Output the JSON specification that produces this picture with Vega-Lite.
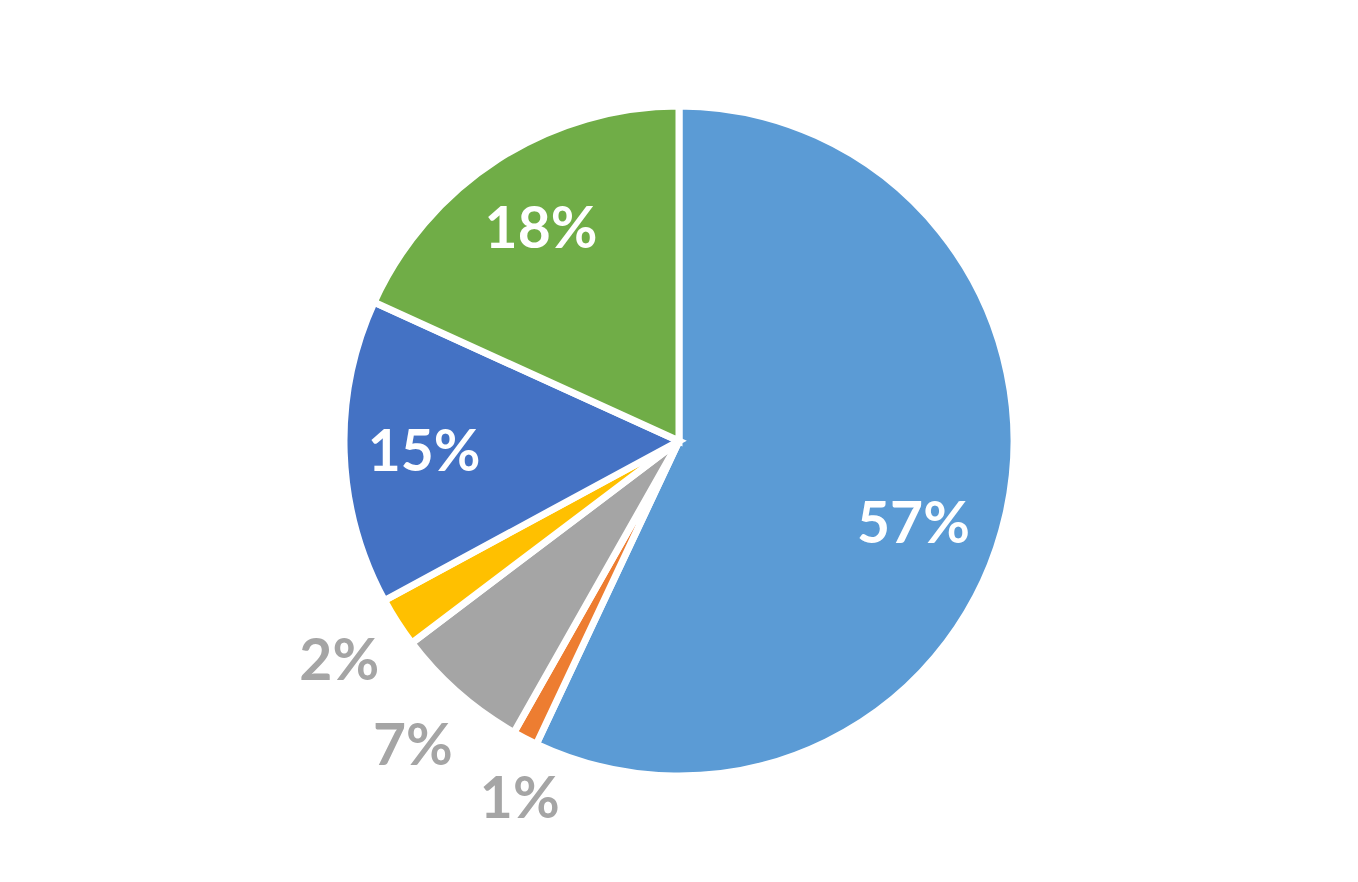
{
  "$schema": "https://vega.github.io/schema/vega-lite/v6.json",
  "autosize": {"type": "fit", "contains": "padding"},
  "width": 1358,
  "height": 882,
  "padding": 0,
  "background": "white",
  "view": {"stroke": null},
  "data": {
    "values": [
      {"order": 1, "category": "A", "value": 57.0, "label": "57%"},
      {"order": 2, "category": "B", "value": 1.2, "label": "1%"},
      {"order": 3, "category": "C", "value": 6.5, "label": "7%"},
      {"order": 4, "category": "D", "value": 2.4, "label": "2%"},
      {"order": 5, "category": "E", "value": 14.7, "label": "15%"},
      {"order": 6, "category": "F", "value": 18.2, "label": "18%"}
    ]
  },
  "encoding": {
    "theta": {"field": "value", "type": "quantitative", "stack": true},
    "order": {"field": "order", "type": "quantitative"}
  },
  "layer": [
    {
      "mark": {"type": "arc", "outerRadius": 335, "stroke": "white", "strokeWidth": 7},
      "encoding": {
        "color": {
          "field": "category",
          "type": "nominal",
          "scale": {
            "domain": ["A", "B", "C", "D", "E", "F"],
            "range": ["#5B9BD5", "#ED7D31", "#A5A5A5", "#FFC000", "#4472C4", "#70AD47"]
          },
          "legend": null
        }
      }
    },
    {
      "mark": {"type": "text", "radius": 255, "dy": 4, "font": "Lato", "fontWeight": "bold", "fontSize": 57, "fill": "white", "align": "center", "baseline": "middle"},
      "encoding": {"text": {"condition": {"test": "datum.value < 10 || datum.value > 50", "value": ""}, "field": "label"}}
    },
    {
      "mark": {"type": "text", "radius": 248, "thetaOffset": 0.112, "dy": 4, "font": "Lato", "fontWeight": "bold", "fontSize": 57, "fill": "white", "align": "center", "baseline": "middle"},
      "encoding": {"text": {"condition": {"test": "datum.value < 50", "value": ""}, "field": "label"}}
    },
    {
      "mark": {"type": "text", "radius": 404, "dy": 3, "font": "Lato", "fontWeight": "bold", "fontSize": 57, "fill": "#A5A5A5", "align": "center", "baseline": "middle"},
      "encoding": {"text": {"condition": {"test": "datum.value > 10 || datum.value < 2", "value": ""}, "field": "label"}}
    },
    {
      "mark": {"type": "text", "radius": 391, "thetaOffset": -0.058, "dy": 3, "font": "Lato", "fontWeight": "bold", "fontSize": 57, "fill": "#A5A5A5", "align": "center", "baseline": "middle"},
      "encoding": {"text": {"condition": {"test": "datum.value >= 2", "value": ""}, "field": "label"}}
    }
  ]
}
